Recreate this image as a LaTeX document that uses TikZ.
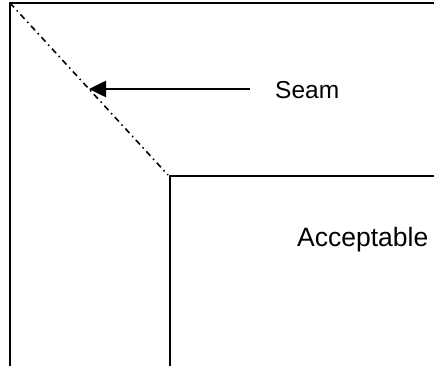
\documentclass[tikz,border=0pt]{standalone}
\usepackage{fontspec}
\setmainfont{Liberation Sans}
\usetikzlibrary{arrows.meta, positioning}

\tikzset{
    edgeline/.style={line width=2.6pt},
    seamline/.style={line width=1.6pt, dash pattern=on 6pt off 4pt on 1.5pt off 4pt},
    label/.style={anchor=base west, inner sep=0pt}
}

\begin{document}
\begin{tikzpicture}[x=1pt, y=-1pt]
                        \useasboundingbox (0, 0) rectangle (434, 366);
                        % outer and inner edges
                        \draw[edgeline] (10, 366) -- (10, 3) -- (434, 3);
                        \draw[edgeline] (170, 366) -- (170, 176) -- (434, 176);
                        % seam
                        \coordinate (c0) at (10, 3);
                        \coordinate (c1) at (168, 175);
                        \draw[seamline] (c0) -- (c1);
                        \node[label, font=\fontsize{24.5}{28}\selectfont] (seam) at (275, 99) {Seam};
                        \coordinate (tail) at (250, 89);
                        \coordinate (tip) at (89, 89);
                        \node[label, font=\fontsize{26.5}{30}\selectfont] (acc) at (297, 247) {Acceptable};
                        \draw[edgeline, -{Triangle[length=17pt, width=16pt]}] (tail) -- (tip);
                    \end{tikzpicture}
\end{document}
